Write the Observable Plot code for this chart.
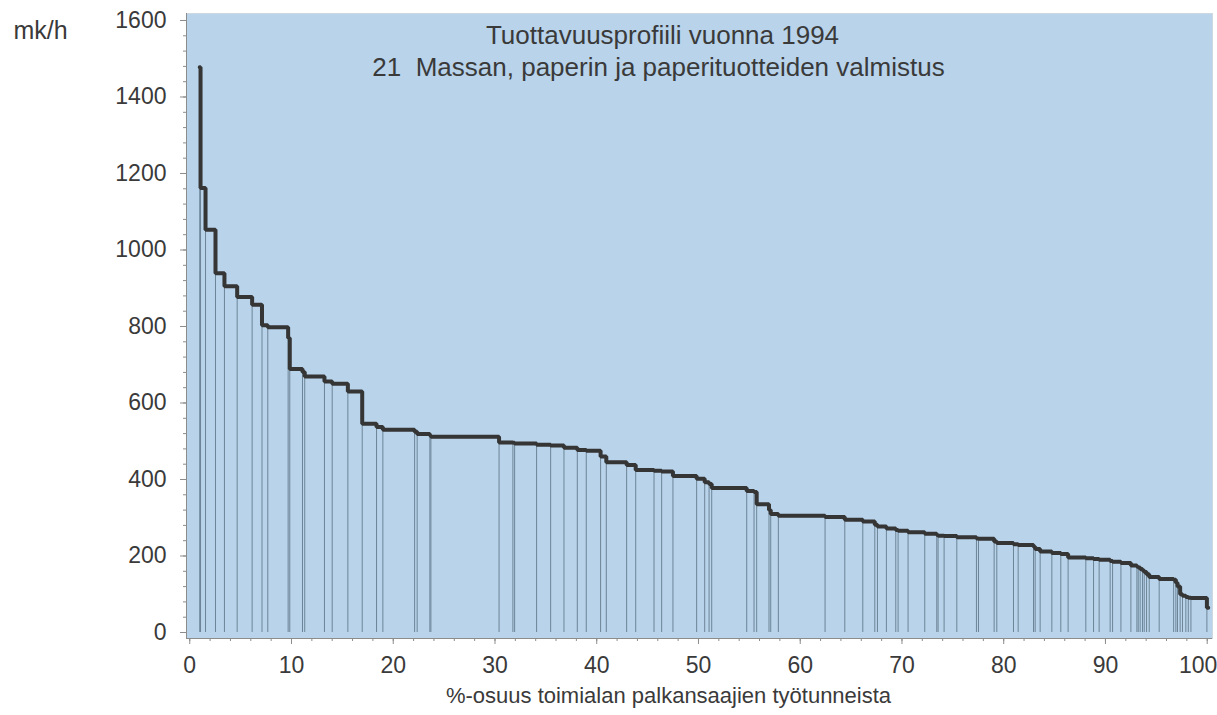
<!DOCTYPE html>
<html><head><meta charset="utf-8">
<script src="https://cdn.jsdelivr.net/npm/d3@7"></script>
<script src="https://cdn.jsdelivr.net/npm/@observablehq/plot@0.6"></script>
<style>body{margin:0;background:#fff;}</style>
</head><body><div id="chart"></div>
<script>
// Cumulative share (%) at which each unit starts, and its productivity (mk/h)
const unitStart = [0.98, 1.06, 1.55, 2.53, 3.41, 4.66, 6.13, 7.1, 7.67, 9.67, 9.83, 11.08, 11.3, 13.24, 14.0, 15.54, 16.95, 18.36, 18.98, 22.1, 22.35, 23.6, 23.7, 30.4, 31.76, 31.93, 34.09, 35.47, 36.78, 38.09, 38.97, 40.38, 40.94, 42.94, 43.83, 45.63, 46.38, 47.49, 49.82, 50.61, 51.04, 51.3, 54.74, 55.46, 55.72, 56.93, 57.1, 57.85, 62.44, 64.38, 66.15, 67.33, 67.59, 68.47, 69.39, 69.62, 70.6, 72.24, 73.42, 73.55, 74.14, 75.39, 77.32, 77.52, 79.06, 79.32, 80.96, 81.42, 82.93, 83.09, 83.58, 84.73, 85.61, 86.33, 88.07, 88.83, 89.38, 90.46, 90.7, 91.52, 92.5, 93.09, 93.22, 93.41, 93.64, 93.81, 94.04, 94.3, 95.28, 96.7, 96.92, 97.08, 97.34, 97.57, 97.9, 98.14, 98.4, 99.97];
const unitValue = [1478, 1162, 1053, 939, 905, 877, 857, 803, 798, 770, 689, 681, 669, 656, 650, 630, 546, 537, 530, 525, 519, 515, 512, 497, 496, 494, 491, 489, 483, 477, 475, 460, 445, 438, 425, 423, 421, 409, 402, 393, 388, 378, 370, 367, 335, 320, 310, 305, 302, 295, 290, 282, 277, 272, 268, 266, 262, 258, 255, 253, 252, 249, 246, 245, 238, 234, 231, 229, 224, 218, 212, 208, 205, 196, 194, 192, 190, 187, 185, 182, 175, 172, 170, 166, 162, 158, 152, 145, 140, 138, 130, 120, 100, 96, 93, 91, 90, 65];
const profileEnd = 100.1;

const xTicks = [0, 10, 20, 30, 40, 50, 60, 70, 80, 90, 100];
const xEdgeTick = [100];
const xMinorTicks = d3.range(0, 101, 2);
const yTicks = d3.range(0, 1601, 200);
const yMinorTicks = d3.range(0, 1601, 40);
const titleLine1 = "Tuottavuusprofiili vuonna 1994";
const titleLine2 = "21\u00a0 Massan, paperin ja paperituotteiden valmistus";
const yUnitLabel = "mk/h";
const xAxisLabel = "%-osuus toimialan palkansaajien työtunneista";
const xDomain = [-0.32, 100.52];
const yDomain = [-15.7, 1618.3];

const units = unitStart.map((s, i) => ({start: s, value: unitValue[i]}));
const stepPoints = [...units, {start: profileEnd, value: unitValue[unitValue.length - 1]}];
const font = "'Liberation Sans', Arial, Helvetica, sans-serif";
const axisGray = "#8c8c8c";
const textColor = "#3a3a3a";
const fmt = d3.format("d");

const chart = Plot.plot({
  width: 1217, height: 715,
  marginLeft: 186, marginRight: 5, marginTop: 13, marginBottom: 77,
  x: {domain: xDomain},
  y: {domain: yDomain},
  style: {fontFamily: font, fontSize: "23px", color: textColor, background: "#fff"},
  marks: [
    Plot.frame({fill: "#b8d3ea", stroke: "#cdd8e0"}),
    Plot.ruleX(units, {x: "start", y1: 0, y2: "value", stroke: "#6d8496", strokeWidth: 1}),
    Plot.line(stepPoints, {x: "start", y: "value", curve: "step-after", stroke: "#353535", strokeWidth: 4, strokeLinejoin: "miter"}),
    Plot.axisY({ticks: yMinorTicks, tickSize: 3, tickFormat: () => "", stroke: axisGray, label: null}),
    Plot.axisY({ticks: yTicks, tickSize: 6, tickPadding: 14, tickFormat: fmt, stroke: axisGray, fill: textColor, label: null, fontSize: 23}),
    Plot.axisX({ticks: xMinorTicks, tickSize: 3, tickFormat: () => "", stroke: axisGray, label: null}),
    Plot.axisX({ticks: xTicks, tickSize: 6, tickPadding: 12, tickFormat: d => xEdgeTick.includes(d) ? "" : fmt(d), stroke: axisGray, fill: textColor, label: null, fontSize: 23}),
    Plot.axisX({ticks: xEdgeTick, tickSize: 0, tickPadding: 18, tickFormat: fmt, fill: textColor, label: null, fontSize: 23, dx: -9}),
    Plot.ruleX([xDomain[0]], {stroke: axisGray}),
    Plot.ruleY([yDomain[0]], {stroke: axisGray}),
    Plot.text([yUnitLabel], {text: d => d, frameAnchor: "top-left", lineAnchor: "middle", dx: -173, dy: 17, textAnchor: "start", fontSize: 25, fill: textColor}),
    Plot.text([titleLine1], {text: d => d, frameAnchor: "top", lineAnchor: "middle", dx: -37, dy: 22, fontSize: 26, fill: textColor}),
    Plot.text([titleLine2], {text: d => d, frameAnchor: "top", lineAnchor: "middle", dx: -41, dy: 54, fontSize: 26, fill: textColor}),
    Plot.text([xAxisLabel], {text: d => d, frameAnchor: "bottom", lineAnchor: "middle", dx: -31, dy: 57, fontSize: 22, fill: textColor})
  ]
});
document.getElementById("chart").appendChild(chart);
</script>
</body></html>
